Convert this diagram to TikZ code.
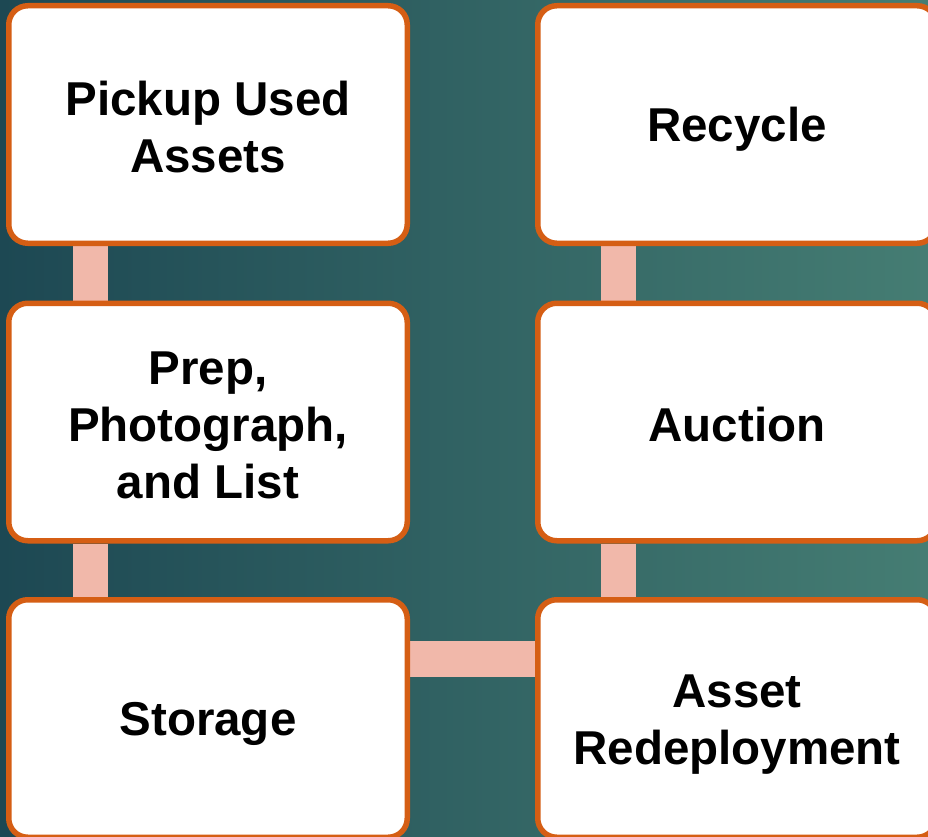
\documentclass[tikz,border=0pt]{standalone}
\usepackage{fontspec}
\setmainfont{Liberation Sans}
\usetikzlibrary{backgrounds}
\definecolor{orng}{HTML}{D55E14}
\definecolor{pinkc}{HTML}{F1B8AA}
\definecolor{bgl}{HTML}{1D4853}
\definecolor{bgr}{HTML}{457D73}
\newcommand{\vst}{\rule[-6pt]{0pt}{50pt}}
\begin{document}
\begin{tikzpicture}[x=1pt,y=-1pt,
  box/.style={draw=orng, line width=5.5pt, fill=white, rounded corners=19pt,
    minimum width=398.5pt, minimum height=237.5pt, align=center, inner sep=0pt,
    font=\fontsize{47.5}{57}\selectfont\bfseries},
  link/.style={draw=pinkc, line width=35pt}]
\useasboundingbox (0,0) rectangle (928,837);

\node[box] (pickup) at (208,124.5) {\vst Pickup Used\\Assets\vst};
\node[box] (prep) at (208,422) {\vst Prep,\\Photograph,\\and List\vst};
\node[box] (storage) at (208,718.5) {\vst Storage};
\node[box] (recycle) at (737,124.5) {\vst Recycle};
\node[box] (auction) at (737,422) {\vst Auction};
\node[box] (redeploy) at (737,718.5) {\vst Asset\\Redeployment\vst};

\coordinate (lx) at (90.5,0);
\coordinate (rx) at (618,0);
\coordinate (hy) at (0,659);

\begin{scope}[on background layer]
  \shade[left color=bgl, right color=bgr] (0,0) rectangle (928,837);
  \draw[link] (pickup.south -| lx) -- (prep.north -| lx);
  \draw[link] (prep.south -| lx) -- (storage.north -| lx);
  \draw[link] (recycle.south -| rx) -- (auction.north -| rx);
  \draw[link] (auction.south -| rx) -- (redeploy.north -| rx);
  \draw[link, line width=36pt] (storage.east |- hy) -- (redeploy.west |- hy);
\end{scope}
\end{tikzpicture}
\end{document}
